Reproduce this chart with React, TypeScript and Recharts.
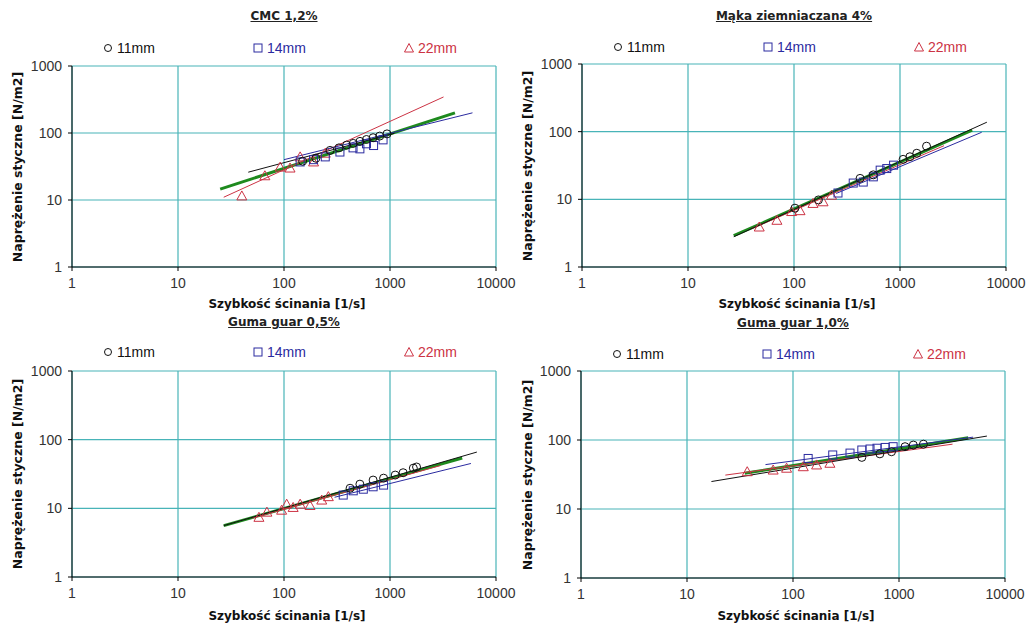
import React from 'react';
import { ScatterChart, Scatter, XAxis, YAxis, CartesianGrid } from 'recharts';

// Data: [shear rate 1/s, shear stress N/m2]
const X_TICKS = [1, 10, 100, 1000, 10000];
const Y_TICKS = [1, 10, 100, 1000];

const CMC_11 = [[150, 38], [200, 42], [272, 55], [330, 60], [390, 66], [450, 70], [521, 75], [600, 80], [693, 85], [800, 90], [937, 97]];
const CMC_14 = [[142, 37], [190, 40], [245, 44], [337, 52], [448, 60], [520, 58], [600, 69], [700, 65], [860, 79]];
const CMC_22 = [[40, 11.5], [66, 23], [92, 31], [114, 30], [142, 44], [190, 37], [245, 50]];
const CMC_FIT_11 = [[46, 26], [1100, 99]];
const CMC_FIT_14 = [[100, 40], [6000, 200]];
const CMC_FIT_22 = [[27, 11], [3200, 345]];
const CMC_FIT_ALL = [[25, 14.5], [4100, 200]];

const MAKA_11 = [[102, 7.4], [170, 9.8], [420, 20.4], [560, 23], [1070, 39], [1240, 42.6], [1440, 48], [1780, 61]];
const MAKA_14 = [[260, 12.4], [362, 17.4], [450, 18], [560, 21.5], [650, 27], [750, 28.5], [870, 32]];
const MAKA_22 = [[47, 3.9], [69, 4.9], [95, 6.6], [114, 6.8], [151, 8.7], [188, 9.2], [226, 11.5]];
const MAKA_FIT_11 = [[27, 2.8], [6600, 138]];
const MAKA_FIT_14 = [[250, 12.2], [5900, 98]];
const MAKA_FIT_22 = [[40, 3.7], [2600, 62]];
const MAKA_FIT_ALL = [[27, 2.9], [4800, 105]];

const GUAR05_11 = [[420, 19.6], [520, 22.5], [693, 25.8], [870, 27.5], [1120, 30.5], [1330, 33], [1660, 38.5], [1780, 40]];
const GUAR05_14 = [[362, 15.6], [450, 18], [560, 19], [693, 20.6], [870, 21.8]];
const GUAR05_22 = [[58, 7.4], [69, 8.8], [95, 9.4], [106, 11.5], [122, 10.3], [142, 11.5], [176, 11], [227, 13.2], [262, 14.8]];
const GUAR05_FIT_11 = [[27, 5.6], [6600, 66]];
const GUAR05_FIT_14 = [[300, 14.5], [5800, 45]];
const GUAR05_FIT_22 = [[50, 7.2], [3000, 42]];
const GUAR05_FIT_ALL = [[27, 5.6], [4800, 54]];

const GUAR10_11 = [[446, 56], [660, 63], [850, 67.6], [1140, 80], [1365, 84.5], [1700, 87]];
const GUAR10_14 = [[139, 54], [237, 60.7], [345, 64.6], [446, 71.6], [533, 74], [620, 76], [740, 78], [880, 80]];
const GUAR10_22 = [[37, 34.7], [65, 36.7], [87, 39], [125, 41], [167, 43.5], [223, 46]];
const GUAR10_FIT_11 = [[17, 25], [6750, 114]];
const GUAR10_FIT_14 = [[55, 44], [5000, 110]];
const GUAR10_FIT_22 = [[23, 31], [3200, 87]];
const GUAR10_FIT_ALL = [[35, 33], [4500, 108]];

const BLACK = '#111111';
const BLUE = '#2b2ba0';
const RED = '#cc3344';
const GREEN = '#1e8a1e';
const GRID = '#48b4b8';
const Y_AXIS_W = 40;
const X_AXIS_H = 30;
const RIGHT_PAD = 30;

const toPts = (arr: number[][]) => arr.map(([x, y]) => ({ x, y }));

const CircleMark = (p: any) => (
  <circle cx={p.cx} cy={p.cy} r={4} fill="none" stroke={BLACK} strokeWidth={1} />
);
const SquareMark = (p: any) => (
  <rect x={p.cx - 4} y={p.cy - 4} width={8} height={8} fill="none" stroke={BLUE} strokeWidth={1} />
);
const TriangleMark = (p: any) => (
  <polygon
    points={`${p.cx},${p.cy - 5} ${p.cx - 5},${p.cy + 4} ${p.cx + 5},${p.cy + 4}`}
    fill="none" stroke={RED} strokeWidth={1}
  />
);
const NoMark = () => <g />;

interface PanelProps {
  title: string;
  x0: number; y0: number;
  plotL: number; plotT: number; plotR: number; plotB: number;
  d11: number[][]; d14: number[][]; d22: number[][];
  f11: number[][]; f14: number[][]; f22: number[][]; fAll: number[][];
  legendY: number;
  titleY: number;
  xLabelY: number;
}

const bold = "'DejaVu Sans', Verdana, sans-serif";
const plain = "'Liberation Sans', Arial, sans-serif";

function Panel(p: PanelProps) {
  const width = p.plotR - p.x0 + RIGHT_PAD;
  const height = p.plotB - p.y0 + X_AXIS_H;
  const cx = (p.plotL + p.plotR) / 2;
  const tick = { fontSize: 14, fill: '#333', fontFamily: plain };
  const fitLine = (data: number[][], color: string, w: number, key: string) => (
    <Scatter
      key={key}
      data={toPts(data)}
      line={{ stroke: color, strokeWidth: w }}
      lineType="joint"
      shape={NoMark}
      isAnimationActive={false}
    />
  );
  const legendItem = (x: number, mark: React.ReactNode, label: string, color: string) => (
    <div style={{ position: 'absolute', left: x - 6, top: p.legendY - 9, display: 'flex', alignItems: 'center', gap: 3, fontFamily: plain, fontSize: 14, color }}>
      <svg width={12} height={12}>{mark}</svg>
      <span>{label}</span>
    </div>
  );

  return (
    <>
      <div style={{ position: 'absolute', left: p.x0, top: p.y0 }}>
        <ScatterChart
          width={width}
          height={height}
          margin={{ top: p.plotT - p.y0, right: RIGHT_PAD, bottom: 0, left: p.plotL - p.x0 - Y_AXIS_W }}
        >
          <CartesianGrid stroke={GRID} strokeWidth={1.2} />
          <XAxis
            type="number" dataKey="x" scale="log" domain={[1, 10000]} ticks={X_TICKS}
            allowDataOverflow height={X_AXIS_H} tick={tick}
            stroke="#000" tickSize={4} tickMargin={7} interval={0}
          />
          <YAxis
            type="number" dataKey="y" scale="log" domain={[1, 1000]} ticks={Y_TICKS}
            allowDataOverflow width={Y_AXIS_W} tick={tick}
            stroke="#000" tickSize={4} tickMargin={6} interval={0}
          />
          {fitLine(p.fAll, GREEN, 3, 'all')}
          {fitLine(p.f22, RED, 1, 'f22')}
          {fitLine(p.f14, BLUE, 1, 'f14')}
          {fitLine(p.f11, BLACK, 1, 'f11')}
          <Scatter data={toPts(p.d22)} shape={TriangleMark} isAnimationActive={false} />
          <Scatter data={toPts(p.d14)} shape={SquareMark} isAnimationActive={false} />
          <Scatter data={toPts(p.d11)} shape={CircleMark} isAnimationActive={false} />
        </ScatterChart>
      </div>

      <div style={{
        position: 'absolute', left: cx, top: p.titleY, transform: 'translate(-50%, -50%)',
        fontFamily: bold, fontWeight: 700, fontSize: 12, textDecoration: 'underline',
        color: '#222', whiteSpace: 'nowrap',
      }}>
        {p.title}
      </div>

      {legendItem(p.plotL + 36, <circle cx={6} cy={6} r={3.5} fill="none" stroke={BLACK} />, '11mm', '#111')}
      {legendItem(p.plotL + 186, <rect x={2} y={2} width={8} height={8} fill="none" stroke={BLUE} />, '14mm', BLUE)}
      {legendItem(p.plotL + 337, <polygon points="6,1.5 1.5,10 10.5,10" fill="none" stroke={RED} />, '22mm', RED)}

      <div style={{
        position: 'absolute', left: p.x0 + 17, top: (p.plotT + p.plotB) / 2,
        transform: 'translate(-50%, -50%) rotate(-90deg)',
        fontFamily: bold, fontWeight: 700, fontSize: 12.5, color: '#111', whiteSpace: 'nowrap',
      }}>
        Naprężenie styczne [N/m2]
      </div>

      <div style={{
        position: 'absolute', left: cx + 3, top: p.xLabelY, transform: 'translate(-50%, -50%)',
        fontFamily: bold, fontWeight: 700, fontSize: 12, color: '#111', whiteSpace: 'nowrap',
      }}>
        Szybkość ścinania [1/s]
      </div>
    </>
  );
}

export default function App() {
  return (
    <div style={{ position: 'absolute', left: 0, top: 0, width: 1029, height: 628, background: '#fff', overflow: 'hidden' }}>
      <Panel
        title="CMC 1,2%" x0={0} y0={0} plotL={72} plotT={66} plotR={496} plotB={267}
        d11={CMC_11} d14={CMC_14} d22={CMC_22}
        f11={CMC_FIT_11} f14={CMC_FIT_14} f22={CMC_FIT_22} fAll={CMC_FIT_ALL}
        legendY={49} titleY={16} xLabelY={304}
      />
      <Panel
        title="Mąka ziemniaczana 4%" x0={510} y0={0} plotL={582} plotT={64} plotR={1006} plotB={267}
        d11={MAKA_11} d14={MAKA_14} d22={MAKA_22}
        f11={MAKA_FIT_11} f14={MAKA_FIT_14} f22={MAKA_FIT_22} fAll={MAKA_FIT_ALL}
        legendY={48} titleY={16} xLabelY={304}
      />
      <Panel
        title="Guma guar 0,5%" x0={0} y0={300} plotL={72} plotT={371} plotR={496} plotB={577}
        d11={GUAR05_11} d14={GUAR05_14} d22={GUAR05_22}
        f11={GUAR05_FIT_11} f14={GUAR05_FIT_14} f22={GUAR05_FIT_22} fAll={GUAR05_FIT_ALL}
        legendY={353} titleY={322} xLabelY={616}
      />
      <Panel
        title="Guma guar 1,0%" x0={510} y0={300} plotL={581} plotT={371} plotR={1005} plotB={578}
        d11={GUAR10_11} d14={GUAR10_14} d22={GUAR10_22}
        f11={GUAR10_FIT_11} f14={GUAR10_FIT_14} f22={GUAR10_FIT_22} fAll={GUAR10_FIT_ALL}
        legendY={355} titleY={323} xLabelY={616}
      />
    </div>
  );
}
